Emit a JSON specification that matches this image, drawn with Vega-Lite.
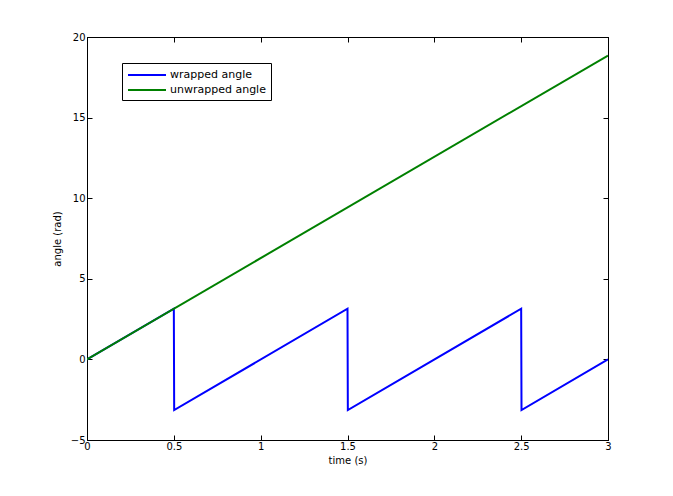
{
  "$schema": "https://vega.github.io/schema/vega-lite/v6.json",
  "autosize": "none",
  "width": 521,
  "height": 403,
  "padding": {"left": 87, "top": 37, "right": 65, "bottom": 56},
  "background": "white",
  "config": {
    "view": {"stroke": "black", "strokeWidth": 1},
    "font": "DejaVu Sans",
    "axis": {
      "grid": false,
      "domainColor": "black",
      "tickColor": "black",
      "tickSize": -5,
      "labelColor": "black",
      "labelFont": "DejaVu Sans",
      "labelFontSize": 10,
      "labelFlush": false,
      "titleFont": "DejaVu Sans",
      "titleFontSize": 10,
      "titleFontWeight": "normal",
      "titleColor": "black"
    }
  },
  "data": {
    "values": [
      {"t": 0, "angle": 0, "series": "wrapped angle", "i": 0},
      {"t": 0.5, "angle": 3.1416, "series": "wrapped angle", "i": 1},
      {"t": 0.502, "angle": -3.1416, "series": "wrapped angle", "i": 2},
      {"t": 1.5, "angle": 3.1416, "series": "wrapped angle", "i": 3},
      {"t": 1.502, "angle": -3.1416, "series": "wrapped angle", "i": 4},
      {"t": 2.5, "angle": 3.1416, "series": "wrapped angle", "i": 5},
      {"t": 2.502, "angle": -3.1416, "series": "wrapped angle", "i": 6},
      {"t": 3, "angle": 0, "series": "wrapped angle", "i": 7},
      {"t": 0, "angle": 0, "series": "unwrapped angle", "i": 0},
      {"t": 3, "angle": 18.85, "series": "unwrapped angle", "i": 1}
    ]
  },
  "layer": [
    {
      "transform": [{"filter": "datum.series === 'wrapped angle'"}],
      "mark": {"type": "line", "strokeWidth": 2, "clip": true},
      "encoding": {
        "x": {"field": "t", "type": "quantitative", "scale": {"domain": [0, 3], "nice": false},
          "axis": {"orient": "bottom", "title": "time (s)", "values": [0, 0.5, 1, 1.5, 2, 2.5, 3], "format": "~g", "labelPadding": 6, "titlePadding": 4}},
        "y": {"field": "angle", "type": "quantitative", "scale": {"domain": [-5, 20], "nice": false, "zero": false},
          "axis": {"orient": "left", "title": "angle (rad)", "values": [-5, 0, 5, 10, 15, 20], "labelPadding": 7, "titlePadding": 8}},
        "order": {"field": "i"},
        "color": {"field": "series", "type": "nominal",
          "scale": {"domain": ["wrapped angle", "unwrapped angle"], "range": ["#0000ff", "#008000"]},
          "legend": {"orient": "none", "legendX": 35, "legendY": 26, "title": null,
            "strokeColor": "black", "fillColor": "white", "padding": 5,
            "symbolType": "M-1,0H5.333", "symbolSize": 144, "symbolStrokeWidth": 2,
            "labelFont": "DejaVu Sans", "labelFontSize": 11, "labelColor": "black", "labelOffset": 29, "rowPadding": 3}}
      }
    },
    {
      "transform": [{"filter": "datum.series === 'unwrapped angle'"}],
      "mark": {"type": "line", "strokeWidth": 2, "clip": true},
      "encoding": {
        "x": {"field": "t", "type": "quantitative",
          "axis": {"orient": "top", "title": null, "labels": false, "values": [0, 0.5, 1, 1.5, 2, 2.5, 3]}},
        "y": {"field": "angle", "type": "quantitative",
          "axis": {"orient": "right", "title": null, "labels": false, "values": [-5, 0, 5, 10, 15, 20]}},
        "order": {"field": "i"},
        "color": {"field": "series", "type": "nominal"}
      }
    }
  ],
  "resolve": {"axis": {"x": "independent", "y": "independent"}}
}
